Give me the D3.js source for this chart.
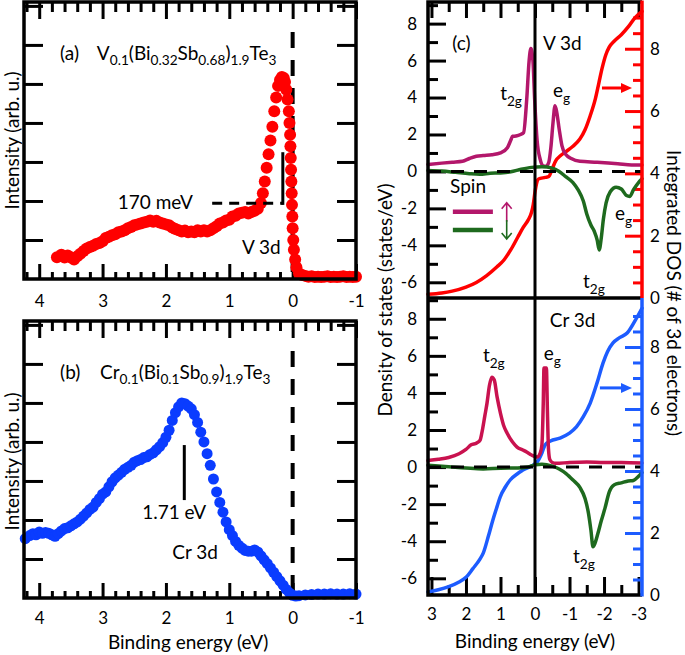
<!DOCTYPE html>
<html><head><meta charset="utf-8">
<script src="https://cdn.jsdelivr.net/npm/d3@7"></script>
<style>
body{margin:0;background:#fff}
svg{display:block}
text{font-family:Lato,"Open Sans","DejaVu Sans",sans-serif;fill:#000}
</style>
</head><body>
<svg id="chart" width="685" height="655"></svg>
<script>
// ---------------- DATA ----------------
const xTicksAB = [4, 3, 2, 1, 0, -1];
const xTicksC = [3, 2, 1, 0, -1, -2, -3];
const yTicksCLeft = [8, 6, 4, 2, 0, -2, -4, -6];
const yTicksCRight = [0, 2, 4, 6, 8];

// Panel (a): V 3d photoemission
const aEnergy = [3.72,3.65,3.6,3.55,3.5,3.45,3.4,3.35,3.3,3.25,3.2,3.15,3.1,3.05,3.0,2.95,2.9,2.85,2.8,2.75,2.7,2.65,2.6,2.55,2.5,2.45,2.4,2.35,2.3,2.25,2.2,2.15,2.1,2.05,2.0,1.95,1.9,1.85,1.8,1.75,1.7,1.65,1.6,1.55,1.5,1.45,1.4,1.35,1.3,1.25,1.2,1.15,1.1,1.05,1.0,0.95,0.9,0.85,0.8,0.75,0.7,0.65,0.6,0.55,0.5,0.47,0.44,0.41,0.38,0.35,0.32,0.29,0.26,0.23,0.2,0.17,0.14,0.12,0.1,0.08,0.06,0.05,0.04,0.035,0.03,0.025,0.02,0.015,0.01,0.005,0.0,-0.01,-0.02,-0.04,-0.06,-0.1,-0.15,-0.2,-0.25,-0.3,-0.35,-0.4,-0.45,-0.5,-0.55,-0.6,-0.65,-0.7,-0.75,-0.8,-0.85,-0.9,-0.95,-1.0];
const aIntensity = [0.56,0.62,0.55,0.6,0.55,0.5,0.58,0.65,0.72,0.78,0.82,0.85,0.9,0.92,0.97,1.05,1.08,1.12,1.15,1.2,1.22,1.25,1.3,1.33,1.38,1.4,1.42,1.45,1.47,1.5,1.47,1.49,1.45,1.42,1.4,1.38,1.32,1.28,1.25,1.22,1.24,1.2,1.22,1.2,1.25,1.22,1.25,1.22,1.25,1.3,1.35,1.42,1.45,1.5,1.52,1.6,1.62,1.68,1.7,1.72,1.68,1.72,1.75,1.8,1.95,2.2,2.5,2.85,3.2,3.55,3.9,4.3,4.65,4.95,5.1,5.18,5.15,5.05,4.85,4.6,4.3,4.0,3.7,3.4,3.1,2.8,2.5,2.2,1.9,1.6,1.3,1.0,0.75,0.5,0.3,0.15,0.1,0.08,0.06,0.07,0.05,0.06,0.05,0.06,0.07,0.05,0.06,0.05,0.06,0.07,0.05,0.06,0.05,0.06];

// Panel (b): Cr 3d photoemission
const bEnergy = [4.22,4.15,4.1,4.05,4.0,3.95,3.9,3.85,3.8,3.75,3.7,3.65,3.6,3.55,3.5,3.45,3.4,3.35,3.3,3.25,3.2,3.15,3.1,3.05,3.0,2.95,2.9,2.85,2.8,2.75,2.7,2.65,2.6,2.55,2.5,2.45,2.4,2.35,2.3,2.25,2.2,2.15,2.1,2.05,2.0,1.95,1.9,1.85,1.8,1.75,1.7,1.65,1.6,1.55,1.5,1.45,1.4,1.35,1.3,1.25,1.2,1.15,1.1,1.05,1.0,0.95,0.9,0.85,0.8,0.75,0.7,0.65,0.6,0.55,0.5,0.45,0.4,0.35,0.3,0.25,0.2,0.15,0.1,0.05,0.0,-0.05,-0.1,-0.2,-0.3,-0.4,-0.5,-0.6,-0.7,-0.8,-0.9,-1.0];
const bIntensity = [1.52,1.6,1.65,1.62,1.69,1.66,1.68,1.66,1.62,1.58,1.65,1.72,1.78,1.8,1.85,1.9,1.95,2.02,2.1,2.18,2.27,2.33,2.45,2.55,2.66,2.72,2.85,2.98,3.08,3.15,3.22,3.3,3.35,3.4,3.48,3.52,3.55,3.6,3.62,3.68,3.72,3.8,3.88,3.98,4.12,4.3,4.55,4.75,4.9,5.0,4.98,4.92,4.85,4.7,4.5,4.25,4.0,3.7,3.4,3.05,2.72,2.45,2.2,1.95,1.75,1.6,1.45,1.35,1.28,1.22,1.2,1.2,1.23,1.18,1.08,0.98,0.88,0.77,0.66,0.55,0.44,0.33,0.22,0.13,0.07,0.05,0.06,0.08,0.09,0.1,0.1,0.11,0.1,0.1,0.11,0.1];

// Panel (c) top: V 3d DOS
const vUpEnergy = [3.1,2.7,2.4,2.1,1.9,1.7,1.5,1.25,1.0,0.8,0.7,0.65,0.55,0.42,0.33,0.24,0.17,0.12,0.06,0.01,-0.06,-0.15,-0.24,-0.32,-0.4,-0.46,-0.52,-0.58,-0.63,-0.7,-0.78,-0.9,-1.05,-1.3,-1.8,-2.4,-2.8,-3.1];
const vUpDOS = [0.38,0.45,0.5,0.55,0.7,0.82,0.86,0.9,1.0,1.28,1.7,1.9,1.92,2.0,2.1,3.9,6.0,6.65,6.0,3.9,1.7,0.65,0.3,0.28,0.5,1.3,2.6,3.55,3.2,2.3,1.4,0.9,0.7,0.55,0.5,0.42,0.35,0.35];
const vDnEnergy = [3.1,2.7,2.3,1.9,1.6,1.3,1.0,0.7,0.4,0.1,-0.2,-0.5,-0.7,-0.9,-1.1,-1.25,-1.4,-1.5,-1.62,-1.72,-1.8,-1.86,-1.92,-1.98,-2.06,-2.18,-2.35,-2.5,-2.65,-2.75,-2.85,-3.0,-3.1];
const vDnDOS = [0.05,0.02,-0.05,-0.12,-0.15,-0.1,-0.08,-0.02,0.12,0.22,0.25,0.18,0.0,-0.3,-0.6,-1.0,-1.6,-2.3,-2.9,-3.25,-3.7,-4.25,-3.6,-2.6,-1.7,-1.1,-0.85,-0.95,-1.3,-1.35,-1.0,-0.6,-0.4];
const vIntEnergy = [3.1,2.7,2.4,2.0,1.7,1.4,1.1,0.9,0.7,0.5,0.35,0.2,0.1,0.05,0.0,-0.05,-0.1,-0.3,-0.4,-0.5,-0.6,-0.75,-0.9,-1.1,-1.3,-1.45,-1.6,-1.75,-1.85,-1.95,-2.05,-2.15,-2.3,-2.5,-2.7,-2.9,-3.1];
const vIntDOS = [0.12,0.16,0.22,0.35,0.5,0.72,1.0,1.22,1.55,1.95,2.25,2.5,2.75,3.0,3.4,3.7,3.82,3.87,3.9,4.15,4.4,4.58,4.7,4.87,5.1,5.4,5.85,6.4,6.9,7.4,7.8,8.05,8.25,8.45,8.7,9.0,9.2];

// Panel (c) bottom: Cr 3d DOS
const crUpEnergy = [3.1,2.8,2.5,2.2,2.0,1.85,1.69,1.59,1.54,1.45,1.39,1.32,1.25,1.18,1.1,1.0,0.9,0.81,0.65,0.52,0.35,0.23,0.1,-0.06,-0.15,-0.2,-0.24,-0.26,-0.33,-0.36,-0.39,-0.43,-0.5,-0.6,-1.0,-1.5,-2.0,-2.5,-3.1];
const crUpDOS = [0.35,0.42,0.52,0.72,0.95,1.2,1.3,1.46,1.84,2.8,3.45,4.4,4.85,4.7,3.8,2.9,2.2,1.84,1.35,1.08,0.92,0.8,0.65,0.54,0.75,1.2,3.5,5.35,5.35,3.0,1.0,0.4,0.25,0.2,0.25,0.28,0.25,0.25,0.22];
const crDnEnergy = [3.1,2.5,2.0,1.5,1.0,0.5,0.2,0.0,-0.2,-0.5,-0.7,-0.9,-1.1,-1.3,-1.45,-1.55,-1.62,-1.68,-1.74,-1.82,-1.92,-2.03,-2.15,-2.3,-2.5,-2.7,-2.85,-3.0,-3.1];
const crDnDOS = [0.1,0.02,-0.05,-0.1,-0.06,-0.05,0.0,0.12,0.15,0.05,-0.1,-0.35,-0.7,-1.1,-1.7,-2.5,-3.4,-4.3,-4.1,-3.6,-2.9,-2.2,-1.35,-0.95,-0.85,-0.75,-0.72,-0.5,-0.3];
const crIntEnergy = [3.1,2.8,2.5,2.2,2.0,1.8,1.6,1.5,1.35,1.22,1.1,1.01,0.85,0.72,0.5,0.35,-0.06,-0.2,-0.29,-0.45,-0.72,-1.0,-1.2,-1.4,-1.6,-1.8,-1.97,-2.1,-2.26,-2.45,-2.67,-2.9,-3.1];
const crIntDOS = [0.1,0.17,0.27,0.42,0.57,0.85,1.15,1.35,1.9,2.42,2.85,3.16,3.5,3.71,3.92,4.03,4.29,4.58,4.84,4.97,5.06,5.22,5.42,5.75,6.19,6.85,7.48,7.85,8.13,8.3,8.45,8.85,9.25];

// ---------------- STYLE ----------------
const RED = "#ff0000", BLUE_B = "#0a3cff", BLUE_C = "#1d5cff";
const PURPLE = "#b3176b", CRIMSON = "#c9124f", GREEN = "#1e6a1e";

const svg = d3.select("#chart");

// scales
const xAB = d3.scaleLinear().domain([4.24, -1.0]).range([24, 356]);
const yA = d3.scaleLinear().domain([0, 7.1]).range([279, 2]);
const yB = d3.scaleLinear().domain([0, 7.1]).range([598, 321]);
const xC = d3.scaleLinear().domain([3.1, -3.1]).range([428, 642]);
const yCT = d3.scaleLinear().domain([-6.85, 9.17]).range([298, 2]);
const yCB = d3.scaleLinear().domain([-6.9, 9.12]).range([595, 298]);
const yCTR = d3.scaleLinear().domain([0, 9.5]).range([298, 2]);
const yCBR = d3.scaleLinear().domain([0, 9.58]).range([595, 298]);

function ticks(axisFn, scale, values, len, tr, color, w) {
  const g = svg.append("g").attr("transform", tr)
    .call(axisFn(scale).tickValues(values).tickSize(len).tickFormat(""));
  g.select(".domain").remove();
  g.selectAll("line").attr("stroke", color || "#000").attr("stroke-width", w || 3);
  return g;
}
function labels(axisFn, scale, values, pad, tr, color, size) {
  const g = svg.append("g").attr("transform", tr)
    .call(axisFn(scale).tickValues(values).tickSize(0).tickPadding(pad).tickFormat(d => String(d)));
  g.select(".domain").remove();
  g.selectAll("text").attr("font-size", size || 17).attr("font-family", 'Lato,"Open Sans",sans-serif')
    .attr("fill", color || "#000");
  return g;
}
function rich(x, y, parts, size, opts) {
  opts = opts || {};
  const t = svg.append("text").attr("x", x).attr("y", y).attr("font-size", size)
    .attr("fill", opts.color || "#000");
  if (opts.anchor) t.attr("text-anchor", opts.anchor);
  let shift = 0;
  parts.forEach(([s, sub]) => {
    const sp = t.append("tspan").text(s);
    if (sub) { sp.attr("font-size", size * 0.72).attr("dy", size * 0.3 - shift); shift = size * 0.3; }
    else { if (shift) sp.attr("dy", -shift); shift = 0; }
  });
  return t;
}

const minorAB = d3.range(-1, 4.21, 0.2).map(v => Math.round(v * 10) / 10).filter(v => !Number.isInteger(v));

// ---------------- PANELS (a) & (b) ----------------
function photoPanel(yS, top, bottom, en, inten, color, r, labPad) {
  // dashed zero line
  svg.append("line").attr("x1", xAB(0)).attr("x2", xAB(0)).attr("y1", top + 30).attr("y2", bottom)
    .attr("stroke", "#000").attr("stroke-width", 4).attr("stroke-dasharray", "16,12");
  const yMaj = [1, 2, 3, 4, 5, 6, 7];
  ticks(d3.axisLeft, yS, yMaj, -19, `translate(${xAB(4.24)},0)`);
  ticks(d3.axisRight, yS, yMaj, -19, `translate(${xAB(-1)},0)`);
  ticks(d3.axisTop, xAB, xTicksAB, -17, `translate(0,${top})`);
  ticks(d3.axisTop, xAB, minorAB, -10, `translate(0,${top})`);
  ticks(d3.axisBottom, xAB, xTicksAB, -15, `translate(0,${bottom})`);
  ticks(d3.axisBottom, xAB, minorAB, -7, `translate(0,${bottom})`);
  svg.append("g").selectAll("circle").data(en.map((e, i) => [e, inten[i]])).join("circle")
    .attr("cx", d => xAB(d[0])).attr("cy", d => yS(d[1])).attr("r", r).attr("fill", color);
  svg.append("rect").attr("x", xAB(4.24)).attr("y", top).attr("width", xAB(-1) - xAB(4.24))
    .attr("height", bottom - top).attr("fill", "none").attr("stroke", "#000").attr("stroke-width", 3.5);
  labels(d3.axisBottom, xAB, xTicksAB, labPad, `translate(0,${bottom})`);
}
photoPanel(yA, 2, 279, aEnergy, aIntensity, RED, 6, 16);
photoPanel(yB, 321, 598, bEnergy, bIntensity, BLUE_B, 5.5, 14);

// y labels (a),(b)
svg.append("text").attr("transform", `translate(19,${(yA(0) + yA(7.1)) / 2}) rotate(-90)`)
  .attr("text-anchor", "middle").attr("font-size", 19).text("Intensity (arb. u.)");
svg.append("text").attr("transform", `translate(19,${(yB(0) + yB(7.1)) / 2 + 2}) rotate(-90)`)
  .attr("text-anchor", "middle").attr("font-size", 19).text("Intensity (arb. u.)");
svg.append("text").attr("x", xAB(1.65)).attr("y", 649).attr("text-anchor", "middle")
  .attr("font-size", 19).text("Binding energy (eV)");

// annotations (a)
svg.append("text").attr("x", xAB(3.67)).attr("y", yA(5.62)).attr("font-size", 19).text("(a)");
rich(xAB(3.09), yA(5.62), [["V"],["0.1",1],["(Bi"],["0.32",1],["Sb"],["0.68",1],[")"],["1.9",1],["Te"],["3",1]], 19);
svg.append("text").attr("x", xAB(2.76)).attr("y", yA(1.8)).attr("font-size", 19).text("170 meV");
svg.append("line").attr("x1", xAB(1.27)).attr("x2", xAB(0.155)).attr("y1", yA(1.94)).attr("y2", yA(1.94))
  .attr("stroke", "#000").attr("stroke-width", 3).attr("stroke-dasharray", "10,7");
svg.append("line").attr("x1", xAB(0.155)).attr("x2", xAB(0.155)).attr("y1", yA(3.25)).attr("y2", yA(1.9))
  .attr("stroke", "#000").attr("stroke-width", 3);
svg.append("text").attr("x", xAB(0.8)).attr("y", yA(0.64)).attr("font-size", 19).text("V 3d");

// annotations (b)
svg.append("text").attr("x", xAB(3.67)).attr("y", yB(5.62)).attr("font-size", 19).text("(b)");
rich(xAB(3.04), yB(5.62), [["Cr"],["0.1",1],["(Bi"],["0.1",1],["Sb"],["0.9",1],[")"],["1.9",1],["Te"],["3",1]], 19);
svg.append("line").attr("x1", xAB(1.71)).attr("x2", xAB(1.71)).attr("y1", yB(3.92)).attr("y2", yB(2.51))
  .attr("stroke", "#000").attr("stroke-width", 3);
svg.append("text").attr("x", xAB(1.87)).attr("y", yB(2.03)).attr("text-anchor", "middle").attr("font-size", 19).text("1.71 eV");
svg.append("text").attr("x", xAB(1.9)).attr("y", yB(1.0)).attr("font-size", 19).text("Cr 3d");

// ---------------- PANEL (c) ----------------
const minorCx = [2.5, 1.5, 0.5, -0.5, -1.5, -2.5];
const oddL = [9, 7, 5, 3, 1, -1, -3, -5];
const halfR = d3.range(0.5, 9.6, 0.5).filter(v => v % 2 !== 0);

ticks(d3.axisLeft, yCT, yTicksCLeft, -18, `translate(428,0)`);
ticks(d3.axisLeft, yCT, oddL.filter(v => v < 9.1), -10, `translate(428,0)`);
ticks(d3.axisLeft, yCB, yTicksCLeft, -18, `translate(428,0)`);
ticks(d3.axisLeft, yCB, oddL.filter(v => v < 9.1), -10, `translate(428,0)`);
ticks(d3.axisTop, xC, xTicksC, -16, `translate(0,2)`);
ticks(d3.axisTop, xC, minorCx, -10, `translate(0,2)`);
ticks(d3.axisBottom, xC, xTicksC, -18, `translate(0,595)`);
ticks(d3.axisBottom, xC, minorCx, -10, `translate(0,595)`);
ticks(d3.axisRight, yCTR, yTicksCRight.filter(v => v > 0), -17, `translate(642,0)`, RED);
ticks(d3.axisRight, yCTR, halfR.filter(v => v < 9.4), -9, `translate(642,0)`, RED);
ticks(d3.axisRight, yCBR, yTicksCRight.filter(v => v > 0), -17, `translate(642,0)`, BLUE_C);
ticks(d3.axisRight, yCBR, halfR.filter(v => v < 9.5), -9, `translate(642,0)`, BLUE_C);

function curve(en, val, xs, ys, color, w) {
  const line = d3.line().x(d => xs(d[0])).y(d => ys(d[1])).curve(d3.curveMonotoneX);
  svg.append("path").datum(en.map((e, i) => [e, val[i]])).attr("d", line)
    .attr("fill", "none").attr("stroke", color).attr("stroke-width", w || 3.5)
    .attr("stroke-linejoin", "round").attr("stroke-linecap", "round");
}
curve(vIntEnergy, vIntDOS, xC, yCTR, RED);
curve(vUpEnergy, vUpDOS, xC, yCT, PURPLE);
curve(vDnEnergy, vDnDOS, xC, yCT, GREEN);
curve(crIntEnergy, crIntDOS, xC, yCBR, BLUE_C);
curve(crUpEnergy, crUpDOS, xC, yCB, CRIMSON);
curve(crDnEnergy, crDnDOS, xC, yCB, GREEN);

[yCT, yCB].forEach(ys => {
  svg.append("line").attr("x1", xC(3.1)).attr("x2", xC(-3.1)).attr("y1", ys(0)).attr("y2", ys(0))
    .attr("stroke", "#000").attr("stroke-width", 3).attr("stroke-dasharray", "13,10");
});
svg.append("line").attr("x1", xC(0)).attr("x2", xC(0)).attr("y1", 2).attr("y2", 595)
  .attr("stroke", "#000").attr("stroke-width", 3);

svg.append("path").attr("d", "M642,2 H428 V595 H642").attr("fill", "none").attr("stroke", "#000").attr("stroke-width", 3.5);
svg.append("line").attr("x1", 428).attr("x2", 642).attr("y1", 298).attr("y2", 298).attr("stroke", "#000").attr("stroke-width", 3.5);
svg.append("line").attr("x1", 642).attr("x2", 642).attr("y1", 0.5).attr("y2", 298).attr("stroke", RED).attr("stroke-width", 3.5);
svg.append("line").attr("x1", 642).attr("x2", 642).attr("y1", 298).attr("y2", 596.5).attr("stroke", BLUE_C).attr("stroke-width", 3.5);

labels(d3.axisLeft, yCT, yTicksCLeft, 11, `translate(428,0)`);
labels(d3.axisLeft, yCB, yTicksCLeft, 11, `translate(428,0)`);
labels(d3.axisRight, yCTR, yTicksCRight, 8, `translate(642,0)`, RED);
labels(d3.axisRight, yCBR, yTicksCRight, 8, `translate(642,0)`, BLUE_C);
labels(d3.axisBottom, xC, xTicksC, 13, `translate(0,595)`);

svg.append("text").attr("transform", `translate(392,300) rotate(-90)`).attr("text-anchor", "middle")
  .attr("font-size", 19).text("Density of states (states/eV)");
svg.append("text").attr("transform", `translate(667,293) rotate(90)`).attr("text-anchor", "middle")
  .attr("font-size", 19).text("Integrated DOS (# of 3d electrons)");
svg.append("text").attr("x", xC(0)).attr("y", 648).attr("text-anchor", "middle")
  .attr("font-size", 19).text("Binding energy (eV)");

svg.append("text").attr("x", xC(2.4)).attr("y", yCT(6.57)).attr("font-size", 19).text("(c)");
svg.append("text").attr("x", xC(-0.23)).attr("y", yCT(6.57)).attr("font-size", 19).text("V 3d");
rich(xC(1.01), yCT(3.87), [["t"],["2g",1]], 19);
rich(xC(-0.52), yCT(4.03), [["e"],["g",1]], 19);
rich(xC(-2.32), yCT(-2.63), [["e"],["g",1]], 19);
rich(xC(-1.39), yCT(-6.3), [["t"],["2g",1]], 19);
svg.append("text").attr("x", xC(2.46)).attr("y", yCT(-1.16)).attr("font-size", 19).text("Spin");

function legendItem(yv, color, up) {
  svg.append("line").attr("x1", xC(2.38)).attr("x2", xC(1.22)).attr("y1", yCT(yv)).attr("y2", yCT(yv))
    .attr("stroke", color).attr("stroke-width", 4.5);
  const cx = xC(0.82), cy = yCT(yv);
  const p = d3.path();
  if (up) { p.moveTo(cx, cy + 10); p.lineTo(cx, cy - 8); p.moveTo(cx - 5, cy - 3); p.lineTo(cx, cy - 9); p.lineTo(cx + 5, cy - 3); }
  else { p.moveTo(cx, cy - 10); p.lineTo(cx, cy + 8); p.moveTo(cx - 5, cy + 3); p.lineTo(cx, cy + 9); p.lineTo(cx + 5, cy + 3); }
  svg.append("path").attr("d", p.toString()).attr("fill", "none").attr("stroke", color).attr("stroke-width", 1.6);
}
legendItem(-2.18, PURPLE, true);
legendItem(-3.17, GREEN, false);

function arrow(x1, x2, y, color) {
  svg.append("line").attr("x1", x1).attr("x2", x2 - 8).attr("y1", y).attr("y2", y).attr("stroke", color).attr("stroke-width", 3);
  svg.append("path").attr("d", `M${x2},${y} L${x2 - 11},${y - 5} L${x2 - 11},${y + 5} Z`).attr("fill", color);
}
arrow(xC(-1.94), xC(-2.81), yCTR(6.74), RED);
arrow(xC(-1.88), xC(-2.81), yCBR(6.68), BLUE_C);

svg.append("text").attr("x", xC(-0.43)).attr("y", yCB(7.56)).attr("font-size", 19).text("Cr 3d");
rich(xC(1.51), yCB(5.67), [["t"],["2g",1]], 19);
rich(xC(-0.25), yCB(5.78), [["e"],["g",1]], 19);
rich(xC(-1.1), yCB(-5.2), [["t"],["2g",1]], 19);
</script>
</body></html>
